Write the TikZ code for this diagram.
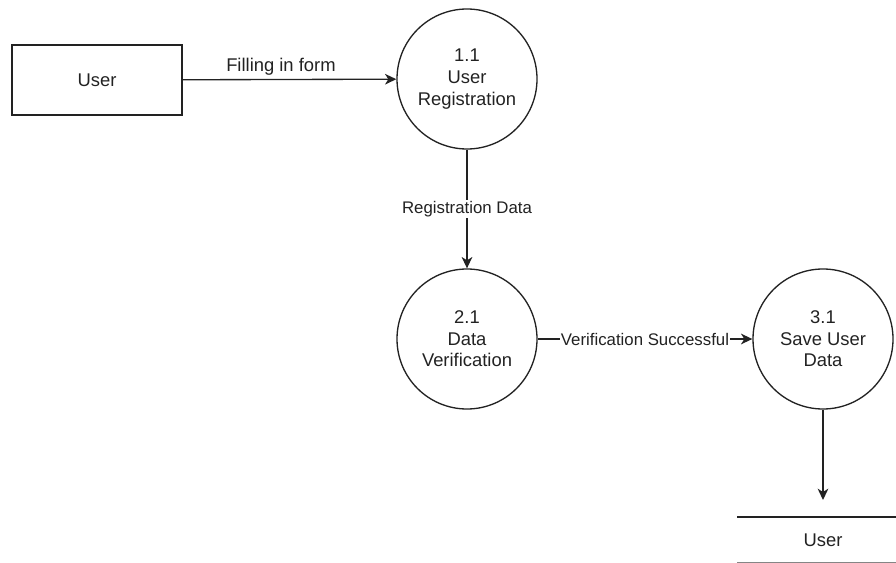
\documentclass[tikz,border=0pt]{standalone}
\usepackage{fontspec}
\setmainfont{Liberation Sans}
\usetikzlibrary{arrows.meta}
\definecolor{ink}{HTML}{222222}
\begin{document}
\begin{tikzpicture}[x=0.75pt,y=-0.75pt,
  line width=1pt,draw=ink,text=ink,
  flow/.style={-{Stealth[length=8.5pt,width=8pt,inset=2.5pt]}},
  proc/.style={circle,draw,minimum size=105pt,inner sep=0pt,align=center,
    font=\fontsize{13.8pt}{16.2pt}\selectfont},
  entity/.style={rectangle,draw,minimum width=127.5pt,minimum height=52.5pt,
    font=\fontsize{13.8pt}{16.2pt}\selectfont},
  lbl/.style={font=\fontsize{12.6pt}{15pt}\selectfont,fill=white,inner sep=1pt},
  toplbl/.style={font=\fontsize{13.8pt}{16.2pt}\selectfont,inner sep=1pt}]
  \useasboundingbox (0,0) rectangle (896,563);

  % external entity and processes
  \node[entity] (user) at (97,80) {User};
  \node[proc] (p11) at (467,79) {1.1\\User\\Registration};
  \node[proc] (p21) at (467,339) {2.1\\Data\\Verification};
  \node[proc] (p31) at (823,339) {3.1\\Save User\\Data};

  % data store
  \coordinate (dsTL) at (737,517);
  \coordinate (dsTR) at (896,517);
  \coordinate (dsBL) at (737,562.5);
  \coordinate (dsBR) at (896,562.5);
  \draw (dsTL) -- (dsTR);
  \draw[draw=ink!55] (dsBL) -- (dsBR);
  \node[font=\fontsize{13.8pt}{16.2pt}\selectfont] (store) at (823,540) {User};
  \coordinate (storeIn) at (823,500);

  % data flows
  \draw[flow] (user) -- node[toplbl,above=2pt,pos=0.46] {Filling in form} (p11);
  \draw[flow] (p11) -- node[lbl] {Registration Data} (p21);
  \draw[flow] (p21) -- node[lbl] {Verification Successful} (p31);
  \draw[flow] (p31) -- (storeIn);
\end{tikzpicture}
\end{document}
